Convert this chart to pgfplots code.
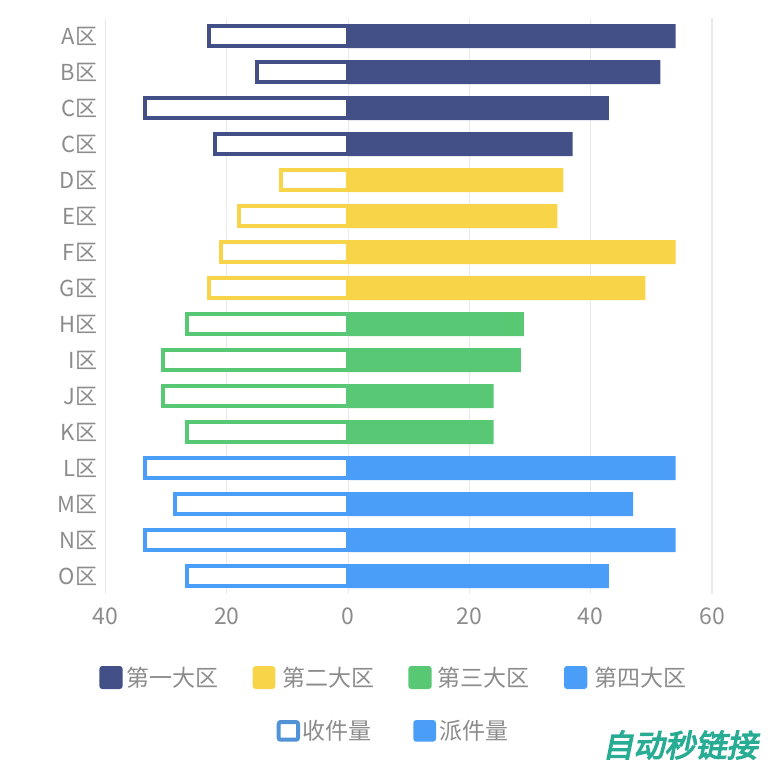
\documentclass[border=0pt]{standalone}
\usepackage{pgfplots}
\pgfplotsset{compat=1.18}
\usepackage{fontspec}
\setmainfont{Noto Sans CJK SC}
\newfontfamily\wmfont{Noto Sans CJK SC}[FakeBold=4,FakeSlant=0.2]
\definecolor{cA}{RGB}{66,80,135}
\definecolor{cB}{RGB}{248,212,72}
\definecolor{cC}{RGB}{88,200,116}
\definecolor{cD}{RGB}{74,158,247}
\definecolor{txt}{RGB}{140,140,140}
\definecolor{gridc}{RGB}{234,234,234}
\definecolor{axc}{RGB}{200,200,200}
\definecolor{wm}{RGB}{40,172,148}
\begin{document}
\begin{tikzpicture}
\path[use as bounding box] (0,0) rectangle (390pt,383.5pt);
\begin{axis}[
  at={(52.75pt,86.5pt)}, anchor=south west,
  scale only axis, width=303.25pt, height=288pt,
  xmin=-40, xmax=60, ymin=-0.5, ymax=15.5, y dir=reverse,
  xtick={-20,0,20,40,60}, xticklabels={20,0,20,40,60},
  extra x ticks={-40}, extra x tick labels={40},
  extra x tick style={grid style={axc, line width=0.7pt}},
  ytick={0,...,15},
  yticklabels={A区,B区,C区,C区,D区,E区,F区,G区,H区,I区,J区,K区,L区,M区,N区,O区},
  major tick length=0pt,
  xmajorgrids, major grid style={gridc, line width=0.6pt},
  axis line style={draw=none},
  /pgf/number format/assume math mode=true,
  ticklabel style={font=\fontsize{11.5}{12}\selectfont, text=txt, inner sep=0pt},
  xticklabel style={anchor=center, yshift=-11pt},
  yticklabel style={anchor=east, xshift=-4pt, font=\fontsize{11}{12}\selectfont},
  clip=false,
]
% 收件量 (hollow, negative side)
\addplot[xbar, bar width=10pt, bar shift=0pt, draw=cA, line width=2pt, fill=white]
  coordinates {(-23,0) (-15,1) (-33.5,2) (-22,3)};
\addplot[xbar, bar width=10pt, bar shift=0pt, draw=cB, line width=2pt, fill=white]
  coordinates {(-11,4) (-18,5) (-21,6) (-23,7)};
\addplot[xbar, bar width=10pt, bar shift=0pt, draw=cC, line width=2pt, fill=white]
  coordinates {(-26.5,8) (-30.5,9) (-30.5,10) (-26.5,11)};
\addplot[xbar, bar width=10pt, bar shift=0pt, draw=cD, line width=2pt, fill=white]
  coordinates {(-33.5,12) (-28.5,13) (-33.5,14) (-26.5,15)};
% 派件量 (filled, positive side)
\addplot[xbar, bar width=12pt, bar shift=0pt, fill=cA, draw=none]
  coordinates {(54,0) (51.5,1) (43,2) (37,3)};
\addplot[xbar, bar width=12pt, bar shift=0pt, fill=cB, draw=none]
  coordinates {(35.5,4) (34.5,5) (54,6) (49,7)};
\addplot[xbar, bar width=12pt, bar shift=0pt, fill=cC, draw=none]
  coordinates {(29,8) (28.5,9) (24,10) (24,11)};
\addplot[xbar, bar width=12pt, bar shift=0pt, fill=cD, draw=none]
  coordinates {(54,12) (47,13) (54,14) (43,15)};
\end{axis}
% legend
\begin{scope}[every node/.style={font=\fontsize{11.5}{12}\selectfont, text=txt, inner sep=0pt, anchor=west}]
\fill[cA, rounded corners=1.5pt] (49.65pt,39pt) rectangle (61.35pt,50.5pt);
\node at (62.8pt,44.5pt) {第一大区};
\fill[cB, rounded corners=1.5pt] (126.35pt,39pt) rectangle (137.65pt,50.5pt);
\node at (140.8pt,44.5pt) {第二大区};
\fill[cC, rounded corners=1.5pt] (204.15pt,39pt) rectangle (215.85pt,50.5pt);
\node at (218.6pt,44.5pt) {第三大区};
\fill[cD, rounded corners=1.5pt] (282pt,39pt) rectangle (293.65pt,50.5pt);
\node at (297pt,44.5pt) {第四大区};
\draw[cD!85!black!90, line width=2pt, fill=white, rounded corners=1pt] (139.35pt,13.65pt) rectangle (149pt,22.5pt);
\node at (150.8pt,18pt) {收件量};
\fill[cD, rounded corners=1.5pt] (206.65pt,12.65pt) rectangle (218pt,23.5pt);
\node at (219.5pt,18pt) {派件量};
\end{scope}
\node[anchor=center, inner sep=0pt, text=wm, font=\wmfont\fontsize{15.5}{16}\selectfont] at (340pt,11pt) {自动秒链接};
\end{tikzpicture}
\end{document}
